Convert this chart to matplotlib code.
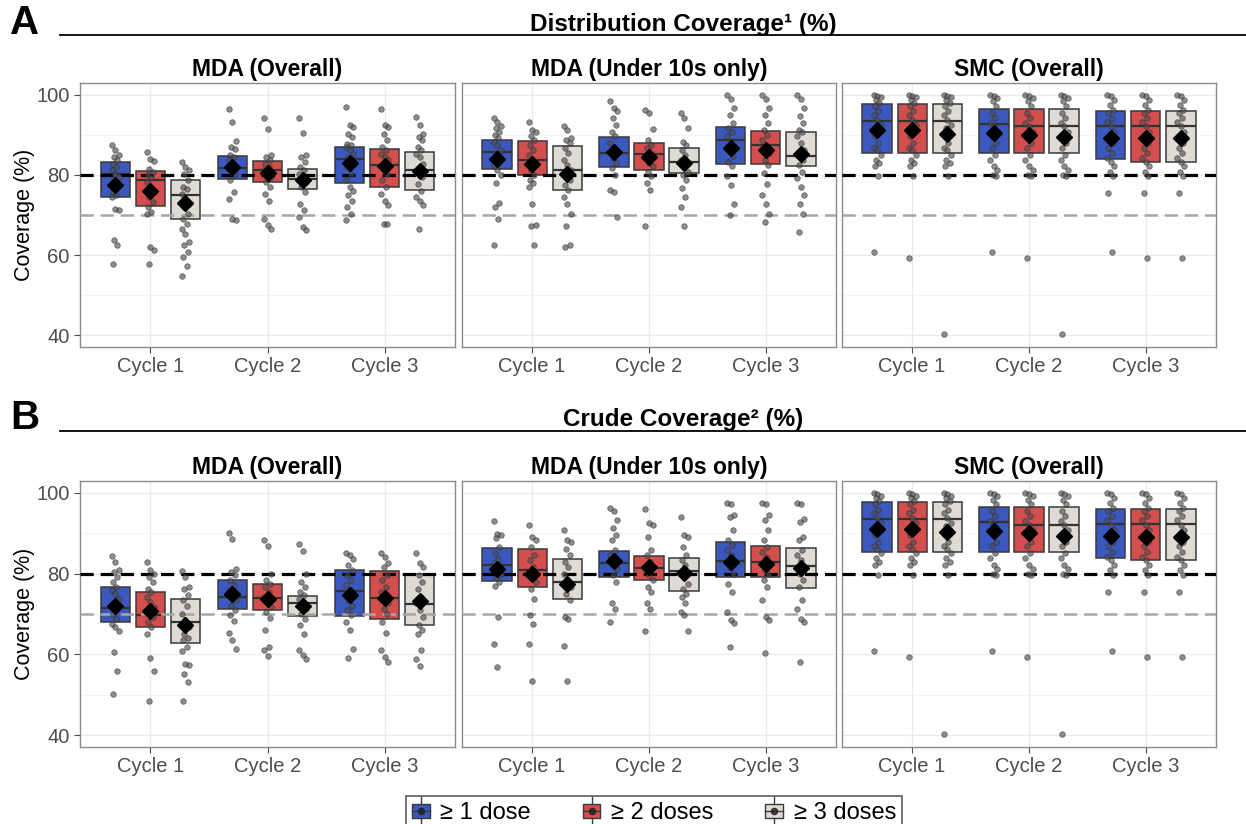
import matplotlib
matplotlib.use("Agg")
import matplotlib.pyplot as plt
from matplotlib.legend_handler import HandlerBase
from matplotlib.patches import Rectangle, Patch
from matplotlib.lines import Line2D

plt.rcParams["font.family"] = ["Liberation Sans", "DejaVu Sans"]
plt.rcParams["lines.scale_dashes"] = False

# -----------------------------
# data (groups ordered cycle-major: C1 d1,d2,d3, C2 d1,d2,d3, C3 d1,d2,d3)
# -----------------------------
cycles = ["Cycle 1", "Cycle 2", "Cycle 3"]
dose_labels = ["\u2265 1 dose", "\u2265 2 doses", "\u2265 3 doses"]
dose_colors = ["#3B58BE", "#D24F4E", "#DEDAD4"]
panel_titles = ["MDA (Overall)", "MDA (Under 10s only)", "SMC (Overall)"]

# Distribution coverage - MDA overall
dist_all_q1 = [74.4, 72.2, 69.0, 78.9, 78.3, 76.6, 77.9, 77.1, 76.3]
dist_all_med = [80.1, 78.6, 75.0, 81.7, 81.1, 78.9, 84.0, 82.5, 81.3]
dist_all_q3 = [83.1, 81.0, 78.6, 84.6, 83.4, 81.5, 87.0, 86.4, 85.8]
dist_all_mean = [77.6, 76.1, 72.9, 82.0, 80.5, 78.6, 83.0, 82.2, 81.0]
dist_all_pts = [
    [87.5, 86.1, 84.9, 84.5, 83.6, 82.8, 82.0, 81.1, 80.3, 79.5, 78.2, 77.0, 75.7, 74.9, 74.5, 71.6, 71.2, 63.8, 62.4, 57.9],
    [85.7, 84.0, 83.5, 81.5, 80.7, 79.9, 79.1, 78.2, 77.0, 75.7, 74.5, 73.2, 72.0, 70.7, 70.3, 62.0, 61.2, 57.9],
    [83.3, 82.0, 81.1, 80.3, 78.6, 77.0, 76.6, 75.3, 73.6, 72.8, 72.0, 70.3, 69.1, 67.8, 66.6, 65.3, 63.3, 62.4, 60.8, 59.5, 57.3, 54.9],
    [96.3, 93.3, 88.4, 86.9, 86.5, 84.9, 84.5, 83.6, 82.8, 82.0, 81.1, 80.3, 78.6, 75.7, 73.9, 69.1, 68.7],
    [94.3, 91.4, 84.9, 84.5, 83.6, 82.8, 82.0, 81.1, 80.3, 79.5, 78.2, 77.0, 75.3, 73.6, 69.1, 67.4, 66.6],
    [94.3, 90.5, 84.9, 84.5, 83.2, 82.0, 81.1, 80.3, 79.5, 78.2, 77.0, 75.7, 72.8, 71.2, 69.5, 67.0, 66.3],
    [96.8, 92.4, 91.9, 90.3, 89.4, 87.8, 87.4, 86.9, 86.1, 85.3, 84.5, 83.6, 82.0, 80.3, 78.6, 77.0, 76.0, 74.9, 73.6, 72.0, 70.3, 68.7],
    [96.3, 92.4, 91.9, 90.3, 88.6, 86.9, 86.1, 85.3, 84.5, 83.6, 82.0, 80.3, 78.6, 77.0, 75.3, 73.6, 72.4, 67.8, 67.7],
    [94.4, 92.4, 90.3, 89.4, 88.6, 86.9, 86.1, 85.3, 84.5, 82.8, 81.1, 79.5, 77.8, 76.1, 74.5, 73.6, 72.4, 66.6],
]

# Distribution coverage - MDA under 10s
dist_u10_q1 = [81.4, 80.0, 76.2, 82.0, 81.1, 80.4, 82.7, 82.6, 82.1]
dist_u10_med = [85.75, 83.6, 81.25, 85.5, 85.2, 83.3, 88.6, 87.5, 84.8]
dist_u10_q3 = [88.75, 88.5, 87.25, 89.4, 87.9, 86.75, 91.9, 90.9, 90.7]
dist_u10_mean = [83.9, 82.75, 80.3, 85.8, 84.5, 82.9, 86.8, 86.25, 85.3]
dist_u10_pts = [
    [94.3, 93.3, 92.1, 91.7, 90.8, 90.0, 89.2, 88.3, 87.5, 86.25, 85.4, 84.6, 83.75, 82.9, 82.1, 81.25, 80.0, 77.9, 72.9, 72.1, 68.9, 62.4],
    [93.1, 91.25, 90.8, 89.6, 88.75, 87.5, 86.25, 85.0, 83.75, 82.5, 81.25, 80.0, 78.75, 77.9, 77.1, 72.75, 67.5, 67.25, 62.4],
    [92.1, 91.25, 89.2, 88.75, 87.9, 86.7, 85.4, 83.75, 82.5, 81.25, 80.0, 78.75, 77.5, 76.25, 74.6, 72.75, 70.2, 67.3, 62.4, 62.1],
    [98.5, 96.7, 95.8, 94.2, 92.5, 90.8, 89.6, 87.9, 86.7, 85.4, 84.2, 82.9, 81.7, 80.0, 76.25, 75.8, 69.4],
    [96.25, 95.4, 91.5, 88.75, 87.5, 86.7, 85.4, 84.2, 82.9, 82.1, 80.8, 79.6, 77.9, 76.25, 67.25],
    [95.4, 94.2, 91.7, 88.3, 87.5, 86.25, 85.0, 83.75, 82.1, 80.8, 80.0, 78.75, 76.7, 74.6, 72.1, 67.25],
    [100.0, 98.9, 96.7, 95.0, 92.9, 91.7, 90.8, 89.6, 88.3, 87.1, 85.8, 84.6, 83.3, 82.1, 79.6, 77.5, 72.75, 70.0],
    [100.0, 98.9, 96.7, 95.0, 92.9, 91.25, 90.0, 88.75, 87.1, 85.4, 83.75, 82.5, 80.4, 77.75, 75.0, 72.75, 70.2, 68.2],
    [100.0, 98.9, 96.7, 94.6, 92.9, 91.25, 90.8, 89.6, 87.9, 86.25, 84.6, 83.75, 82.5, 80.8, 79.2, 77.1, 75.0, 72.75, 70.2, 65.8],
]

# SMC (same in both rows)
smc_q1 = [85.4, 85.4, 85.4, 85.4, 85.4, 85.4, 83.9, 83.3, 83.3]
smc_med = [93.4, 93.4, 93.5, 92.75, 92.1, 92.1, 92.3, 92.3, 92.3]
smc_q3 = [97.75, 97.75, 97.75, 96.5, 96.5, 96.5, 96.0, 96.0, 96.0]
smc_mean = [91.1, 91.1, 90.25, 90.5, 90.0, 89.4, 89.3, 89.1, 89.1]
smc_pts = [
    [100, 99.75, 99.3, 98.6, 97.9, 97.1, 95.8, 95.0, 93.75, 92.5, 91.7, 90.8, 89.6, 87.9, 86.7, 86.1, 85.0, 83.75, 82.9, 82.1, 79.6, 60.8],
    [100, 99.75, 99.3, 98.6, 97.9, 97.1, 95.8, 95.0, 93.75, 92.5, 91.7, 90.8, 89.6, 87.9, 86.7, 86.1, 85.0, 83.75, 82.9, 82.1, 79.6, 59.25],
    [100, 99.75, 99.3, 98.6, 97.9, 97.1, 95.8, 95.0, 93.75, 92.5, 91.7, 90.8, 89.6, 87.9, 86.7, 86.1, 85.0, 83.75, 82.9, 82.1, 79.6, 40.4],
    [100, 99.75, 99.2, 98.3, 97.1, 95.4, 94.2, 92.9, 92.1, 90.8, 89.6, 87.9, 86.7, 85.0, 83.75, 82.1, 81.25, 80.0, 79.6, 60.8],
    [100, 99.75, 99.2, 98.3, 97.1, 95.4, 94.2, 92.9, 92.1, 90.8, 89.6, 87.9, 86.7, 85.0, 83.75, 82.1, 81.25, 80.0, 79.6, 59.25],
    [100, 99.75, 99.2, 98.3, 97.1, 95.4, 94.2, 92.9, 92.1, 90.8, 89.6, 87.9, 86.7, 85.0, 83.75, 82.1, 81.25, 80.0, 79.6, 40.4],
    [100, 99.6, 98.75, 97.5, 96.25, 95.4, 94.2, 93.3, 92.1, 90.8, 89.2, 87.9, 86.7, 85.4, 84.2, 83.3, 82.1, 80.8, 79.6, 75.4, 60.8],
    [100, 99.6, 98.75, 97.5, 96.25, 95.4, 94.2, 93.3, 92.1, 90.8, 89.2, 87.9, 86.7, 85.4, 84.2, 83.3, 82.1, 80.8, 79.6, 75.4, 59.25],
    [100, 99.6, 98.75, 97.5, 96.25, 95.4, 94.2, 93.3, 92.1, 90.8, 89.2, 87.9, 86.7, 85.4, 84.2, 83.3, 82.1, 80.8, 79.6, 75.4, 59.25],
]

# Crude coverage - MDA overall
crude_all_q1 = [68.1, 66.7, 62.8, 71.2, 70.9, 69.4, 69.4, 68.7, 67.2]
crude_all_med = [71.4, 69.7, 67.9, 74.2, 74.0, 72.8, 75.7, 74.0, 72.5]
crude_all_q3 = [76.6, 75.5, 73.7, 78.3, 77.3, 74.5, 81.0, 80.6, 79.8]
crude_all_mean = [71.9, 70.7, 67.4, 74.9, 73.6, 71.9, 74.7, 73.9, 73.1]
crude_all_pts = [
    [84.3, 82.9, 80.8, 80.4, 79.2, 77.9, 76.7, 75.9, 75.0, 73.8, 72.6, 71.3, 70.1, 68.8, 67.6, 66.8, 65.7, 60.6, 55.8, 50.1],
    [82.9, 80.8, 80.0, 79.2, 77.9, 76.3, 75.5, 74.2, 73.0, 71.7, 70.5, 69.3, 68.0, 66.8, 65.1, 59.2, 55.8, 48.6],
    [80.7, 79.2, 76.7, 76.3, 74.6, 73.4, 72.1, 70.1, 68.4, 66.8, 65.1, 64.1, 63.5, 61.8, 60.8, 57.7, 57.3, 55.2, 53.1, 48.6],
    [90.1, 88.6, 81.1, 80.4, 79.6, 78.3, 77.1, 75.9, 74.6, 73.4, 72.1, 70.9, 69.7, 68.2, 65.4, 63.5, 61.3],
    [88.3, 86.9, 80.0, 78.3, 77.5, 76.7, 75.5, 74.2, 73.0, 71.7, 70.5, 69.1, 66.0, 61.8, 61.0, 59.5],
    [87.3, 85.6, 80.0, 77.9, 76.7, 75.5, 74.6, 73.8, 72.6, 71.3, 70.1, 68.8, 67.4, 65.1, 61.0, 59.8, 58.9],
    [85.1, 84.5, 83.5, 82.1, 80.8, 79.6, 78.3, 77.1, 75.9, 74.6, 73.4, 72.1, 70.9, 69.7, 68.0, 66.0, 61.4, 59.1],
    [85.1, 84.1, 82.5, 81.7, 79.6, 78.3, 76.7, 75.5, 74.2, 72.6, 71.3, 70.1, 68.0, 65.4, 61.0, 59.3, 58.1],
    [85.1, 82.5, 81.7, 79.6, 77.9, 76.3, 74.2, 72.6, 70.9, 69.3, 67.4, 66.0, 65.1, 61.0, 58.9, 57.1],
]

# Crude coverage - MDA under 10s
crude_u10_q1 = [78.1, 76.6, 73.6, 79.2, 78.5, 75.7, 79.2, 79.2, 76.4]
crude_u10_med = [82.1, 80.9, 78.0, 82.5, 81.4, 80.6, 83.1, 82.9, 81.8]
crude_u10_q3 = [86.4, 86.0, 83.7, 85.5, 84.3, 83.9, 87.7, 86.8, 86.4]
crude_u10_mean = [81.2, 79.9, 77.5, 83.0, 81.6, 80.1, 82.9, 82.4, 81.4]
crude_u10_pts = [
    [93.1, 89.9, 89.5, 88.7, 86.6, 85.0, 83.7, 82.5, 81.2, 80.0, 78.8, 77.9, 76.9, 69.3, 62.5, 56.9],
    [91.9, 89.1, 88.3, 86.6, 84.5, 83.3, 81.7, 80.4, 79.2, 77.9, 76.3, 73.8, 69.7, 67.6, 62.5, 53.4],
    [90.7, 88.3, 87.9, 86.2, 84.5, 82.9, 81.7, 80.0, 78.3, 76.7, 75.0, 73.4, 69.3, 68.8, 62.2, 53.4],
    [96.1, 95.5, 93.2, 91.2, 89.5, 88.3, 85.8, 84.5, 83.3, 81.2, 79.6, 77.9, 72.6, 71.3, 68.0],
    [95.9, 92.4, 92.0, 89.1, 85.8, 84.5, 82.9, 81.2, 79.6, 78.3, 76.7, 75.5, 72.6, 71.3, 65.9],
    [94.0, 89.5, 89.1, 86.6, 84.5, 83.3, 82.1, 80.4, 79.2, 77.5, 76.3, 75.0, 74.2, 72.6, 70.5, 69.7, 65.9],
    [97.5, 97.2, 94.5, 94.0, 90.7, 88.3, 87.0, 85.8, 84.5, 83.3, 81.7, 80.0, 77.5, 75.5, 70.5, 68.4, 67.8, 61.8],
    [97.5, 97.2, 94.5, 93.2, 90.7, 88.3, 86.6, 85.4, 84.1, 82.5, 80.8, 80.0, 78.3, 76.7, 73.4, 69.3, 68.4, 60.3],
    [97.5, 97.2, 93.6, 92.8, 89.1, 88.3, 85.8, 84.5, 83.3, 81.7, 80.0, 78.3, 76.7, 73.4, 71.3, 68.8, 68.0, 58.1],
]

target_hi = 80
target_lo = 70

# -----------------------------
# layout (pixels of a 1246x824 canvas)
# -----------------------------
W, H = 1246, 824
DODGE = 0.30
BOX_W = 0.25


def px_rect(x0, y0, x1, y1):
    return [x0 / W, 1 - y1 / H, (x1 - x0) / W, (y1 - y0) / H]


def draw_panel(ax, q1, med, q3, mean, pts, title, show_y):
    pos = [c + 1 + (d - 1) * DODGE for c in range(3) for d in range(3)]
    stats = [dict(q1=a, med=m, q3=b, whislo=a, whishi=b, fliers=[])
             for a, m, b in zip(q1, med, q3)]
    bp = ax.bxp(stats, positions=pos, widths=BOX_W, patch_artist=True,
                showcaps=False, showfliers=False, manage_ticks=False,
                boxprops=dict(edgecolor="#3a3a3a", linewidth=1.1),
                medianprops=dict(color="#333333", linewidth=1.6),
                whiskerprops=dict(linewidth=0))
    for i, box in enumerate(bp["boxes"]):
        box.set_facecolor(dose_colors[i % 3])
        box.set_zorder(2)
    for ln in bp["medians"]:
        ln.set_zorder(2.1)

    ax.axhline(target_hi, color="black", lw=2.3, ls=(0, (9.5, 5)), zorder=3)
    ax.axhline(target_lo, color="#A6A6A6", lw=1.8, ls=(0, (9.5, 5)), zorder=3)

    # small deterministic horizontal spread so points don't stack
    for p, vals in zip(pos, pts):
        xs = [p + ((k * 3) % 7 - 3) * 0.010 for k in range(len(vals))]
        ax.scatter(xs, vals, s=16, color="#505050", alpha=0.65,
                   edgecolors="#2a2a2a", linewidths=0.5, zorder=4)
    ax.plot(pos, mean, "D", color="black", ms=8.5, linestyle="none", zorder=5)

    ax.set_xlim(0.4, 3.6)
    ax.set_ylim(37.1, 102.9)
    ax.set_xticks([1, 2, 3])
    ax.set_xticklabels(cycles)
    ax.set_yticks([40, 60, 80, 100])
    ax.set_yticks([50, 70, 90], minor=True)
    ax.grid(True, which="major", color="#EBEBEB", lw=1.0, zorder=0)
    ax.grid(True, which="minor", axis="y", color="#F4F4F4", lw=0.6, zorder=0)
    ax.set_axisbelow(True)
    ax.tick_params(axis="both", which="major", length=4, width=0.8,
                   color="#4D4D4D", labelcolor="#4D4D4D", labelsize=14.5)
    ax.tick_params(axis="y", which="minor", length=0)
    for sp in ax.spines.values():
        sp.set_color("#8C8C8C")
        sp.set_linewidth(1.0)
    if show_y:
        ax.set_ylabel("Coverage (%)", fontsize=15.5, labelpad=1)
    else:
        ax.tick_params(axis="y", which="major", length=0, labelleft=False)
    ax.set_title(title, fontsize=16.5, fontweight="bold", pad=5)


fig = plt.figure(figsize=(W / 100, H / 100), dpi=100)

cols = [(80, 455), (462, 836), (842, 1216)]
rows = [(83, 347), (481, 747)]

row_data = [
    [(dist_all_q1, dist_all_med, dist_all_q3, dist_all_mean, dist_all_pts),
     (dist_u10_q1, dist_u10_med, dist_u10_q3, dist_u10_mean, dist_u10_pts),
     (smc_q1, smc_med, smc_q3, smc_mean, smc_pts)],
    [(crude_all_q1, crude_all_med, crude_all_q3, crude_all_mean, crude_all_pts),
     (crude_u10_q1, crude_u10_med, crude_u10_q3, crude_u10_mean, crude_u10_pts),
     (smc_q1, smc_med, smc_q3, smc_mean, smc_pts)],
]

for r, (y0, y1) in enumerate(rows):
    for c, (x0, x1) in enumerate(cols):
        ax = fig.add_axes(px_rect(x0, y0, x1, y1))
        q1, med, q3, mean, pts = row_data[r][c]
        draw_panel(ax, q1, med, q3, mean, pts, panel_titles[c], c == 0)

# row headers
headers = [("A", "Distribution Coverage\u00b9 (%)", 31, 35), ("B", "Crude Coverage\u00b2 (%)", 426, 431)]
for letter, text, base_y, line_y in headers:
    fig.text(10 / W, 1 - (base_y + 3) / H, letter, fontsize=29, fontweight="heavy",
             va="baseline", ha="left")
    fig.text(683 / W, 1 - base_y / H, text, fontsize=17.5, fontweight="bold",
             va="baseline", ha="center")
    fig.add_artist(Line2D([60 / W, 1.0], [1 - line_y / H] * 2,
                          transform=fig.transFigure, color="black", lw=1.3))


# legend keys drawn like little boxplots
class BoxKey(HandlerBase):
    def create_artists(self, legend, orig_handle, xdescent, ydescent,
                       width, height, fontsize, trans):
        x0, y0 = -xdescent, -ydescent
        cx, cy = x0 + width / 2, y0 + height / 2
        whisk = Line2D([cx, cx], [y0 - 0.35 * height, y0 + 1.35 * height],
                       color="#3a3a3a", lw=1.0, transform=trans)
        box = Rectangle((x0, y0 + 0.05 * height), width, 0.9 * height,
                        facecolor=orig_handle.get_facecolor(),
                        edgecolor="#3a3a3a", lw=1.0, transform=trans)
        mid = Line2D([x0, x0 + width], [cy, cy], color="#3a3a3a", lw=1.0,
                     transform=trans)
        dot = Line2D([cx], [cy], marker="o", ms=4.5, color="#222222",
                     alpha=0.8, transform=trans)
        return [whisk, box, mid, dot]


handles = [Patch(facecolor=col) for col in dose_colors]
leg = fig.legend(handles, dose_labels, handler_map={Patch: BoxKey()},
                 loc="upper center", bbox_to_anchor=(654 / W, 1 - 796 / H),
                 borderaxespad=0.0,
                 ncol=3, fontsize=17, frameon=True, fancybox=False,
                 edgecolor="#333333", handlelength=0.75, handleheight=0.65,
                 handletextpad=0.45, columnspacing=2.2, borderpad=0.25)
leg.get_frame().set_linewidth(1.2)

fig.savefig("out.png", dpi=100)
